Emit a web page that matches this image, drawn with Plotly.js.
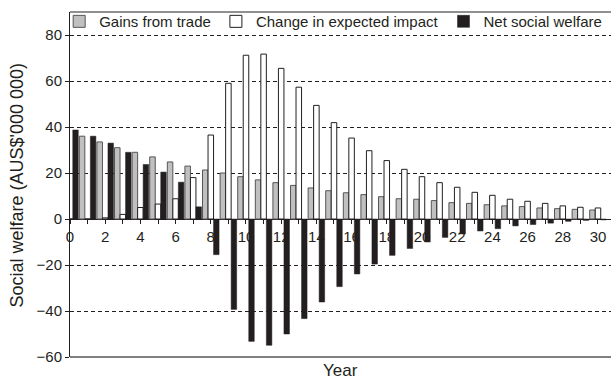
<!DOCTYPE html>
<html>
<head>
<meta charset="utf-8">
<script src="https://cdn.plot.ly/plotly-3.0.1.min.js"></script>
<style>html,body{margin:0;padding:0;background:#fff;}#chart{width:611px;height:380px;}</style>
</head>
<body>
<div id="chart"></div>
<script>
var years = [0,1,2,3,4,5,6,7,8,9,10,11,12,13,14,15,16,17,18,19,20,21,22,23,24,25,26,27,28,29,30];
var gainsFromTrade = [38.7,36,33.5,31,29,27,24.8,23,21.3,20,18.4,17,15.8,14.6,13.5,12.3,11.4,10.6,9.7,8.8,8.6,8.0,7.1,6.8,6.2,5.7,5.4,4.8,4.5,4.2,3.9];
var changeInExpectedImpact = [0,0,0.5,2,5,6.5,8.8,18,36.5,59,71.2,71.7,65.5,57.3,49.4,41.9,35.2,29.7,25.4,21.6,18.4,15.8,13.8,11.6,10.3,8.6,7.7,6.8,5.7,5.1,4.8];
var netSocialWelfare = [38.7,36,33,29,23.7,20.4,16,5.3,-15.5,-39.3,-53.2,-54.9,-50,-43.3,-36.1,-29.4,-23.9,-19.6,-15.8,-12.8,-10,-8,-6.5,-5.2,-4.2,-3,-2.4,-1.8,-1,-0.6,-0.4];
var xTickVals = years;
var xTickText = years.map(function(y){ return y % 2 === 0 ? String(y) : ''; });
var yTickVals = [-60,-40,-20,0,20,40,60,80];

var dark = '#231f20';
var traces = [
  {type:'bar', name:'Gains from trade', x:years, y:gainsFromTrade,
   marker:{color:'#c0c0c0', line:{color:'#555555', width:1}}},
  {type:'bar', name:'Change in expected impact', x:years, y:changeInExpectedImpact,
   marker:{color:'#ffffff', line:{color:dark, width:1}}},
  {type:'bar', name:'Net social welfare', x:years, y:netSocialWelfare,
   marker:{color:dark, line:{color:dark, width:0.5}}}
];

var layout = {
  width:611, height:380,
  margin:{l:70, r:0, t:12, b:23, pad:0},
  paper_bgcolor:'#ffffff', plot_bgcolor:'#ffffff',
  font:{family:'"Liberation Sans", Arial, sans-serif', size:15, color:dark},
  barmode:'group', bargap:0.06, bargroupgap:0,
  showlegend:true,
  legend:{orientation:'h', x:-0.02, xanchor:'left', y:1.02, yanchor:'top',
          bgcolor:'rgba(0,0,0,0)', font:{size:15, color:dark}, itemwidth:30,
          traceorder:'normal'},
  xaxis:{range:[0,30.74], anchor:'free', position:0.4,
         tickmode:'array', tickvals:xTickVals, ticktext:xTickText,
         ticks:'outside', ticklen:4, tickcolor:dark, tickwidth:1,
         showline:false, showgrid:false, zeroline:false,
         tickfont:{size:15, color:dark}},
  yaxis:{range:[-60,90], tickmode:'array', tickvals:yTickVals,
         ticks:'outside', ticklen:4, tickcolor:dark, tickwidth:1,
         showline:true, linecolor:dark, linewidth:1,
         showgrid:true, gridcolor:dark, gridwidth:1, griddash:'4px,3px',
         zeroline:true, zerolinecolor:dark, zerolinewidth:1,
         tickfont:{size:15, color:dark}},
  shapes:[
    {type:'line', xref:'paper', yref:'paper', x0:0, x1:1, y0:1, y1:1, line:{color:dark, width:1}},
    {type:'line', xref:'paper', yref:'paper', x0:0, x1:1, y0:0, y1:0, line:{color:'#808080', width:2}}
  ],
  annotations:[
    {text:"Social welfare (AUS$'000 000)", xref:'paper', yref:'paper', x:-0.098, y:0.5,
     xanchor:'center', yanchor:'middle', textangle:-90, showarrow:false,
     font:{size:18, color:dark}},
    {text:'Year', xref:'paper', yref:'paper', x:0.5, y:-0.038,
     xanchor:'center', yanchor:'middle', showarrow:false, font:{size:17, color:dark}}
  ]
};

Plotly.newPlot('chart', traces, layout, {displayModeBar:false, staticPlot:true});
</script>
</body>
</html>
